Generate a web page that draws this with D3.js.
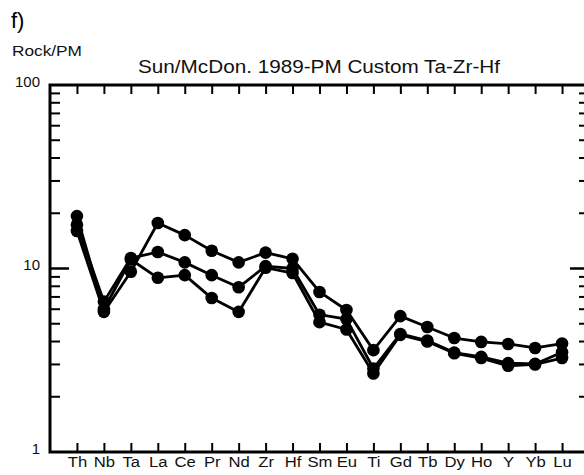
<!DOCTYPE html>
<html>
<head>
<meta charset="utf-8">
<script src="https://cdn.jsdelivr.net/npm/d3@7/dist/d3.min.js"></script>
<style>
  html, body { margin: 0; padding: 0; background: #fff; }
  svg { display: block; font-family: "Liberation Sans", Arial, sans-serif; }
</style>
</head>
<body>
<svg id="chart" width="584" height="475"></svg>
<script>
// Elements along the x axis (spider diagram order)
const elements = ["Th","Nb","Ta","La","Ce","Pr","Nd","Zr","Hf","Sm","Eu","Ti","Gd","Tb","Dy","Ho","Y","Yb","Lu"];

// Rock / primitive-mantle normalised values, one array per sample
const sampleA = [16.0, 5.8, 9.6, 17.7, 15.2, 12.5, 10.8, 12.2, 11.3, 7.45, 5.94, 3.59, 5.5, 4.8, 4.18, 3.98, 3.88, 3.69, 3.9];
const sampleB = [17.3, 6.6, 11.4, 12.3, 10.8, 9.2, 7.9, 10.3, 10.0, 5.6, 5.3, 2.85, 4.4, 4.05, 3.48, 3.3, 3.05, 3.02, 3.5];
const sampleC = [19.3, 6.0, 11.2, 8.9, 9.2, 6.9, 5.8, 10.1, 9.45, 5.1, 4.65, 2.68, 4.35, 4.0, 3.45, 3.25, 2.95, 3.0, 3.25];
const samples = [sampleA, sampleB, sampleC];

// Y axis labels
const yMajor = [1, 10, 100];
const yLabels = ["1", "10", "100"];

const panelLabel = "f)";
const yTitle = "Rock/PM";
const chartTitle = "Sun/McDon. 1989-PM Custom Ta-Zr-Hf";

const svg = d3.select("#chart");
const frame = { left: 50, right: 589, top: 85, bottom: 452 };

const x = d3.scalePoint().domain(elements).range([frame.left, frame.right]).padding(1);
const y = d3.scaleLog().domain([1, 100]).range([frame.bottom, frame.top]);

// Minor log ticks (2..9 per decade)
const yMinor = [];
for (const d of [1, 10]) for (let k = 2; k <= 9; k++) yMinor.push(d * k);

const g = svg.append("g");

// Bottom axis: inward ticks, category labels
const xb = g.append("g").attr("transform", `translate(0,${frame.bottom})`)
  .call(d3.axisBottom(x).tickSizeInner(-9).tickSizeOuter(0).tickPadding(5));
// Top axis: inward ticks, no labels
const xt = g.append("g").attr("transform", `translate(0,${frame.top})`)
  .call(d3.axisTop(x).tickSizeInner(-9).tickSizeOuter(0).tickFormat(""));
[xb, xt].forEach(a => {
  a.select(".domain").remove();
  a.selectAll(".tick line").attr("stroke", "#000").attr("stroke-width", 2);
});
// Slightly wide lettering for the element labels
xb.selectAll(".tick text").attr("font-size", 14.5).attr("fill", "#111")
  .attr("font-family", "Liberation Sans, Arial, sans-serif")
  .attr("transform", "scale(1.15,1)");

// Left and right log ticks
const sides = [{ x0: frame.left, dir: 1 }, { x0: frame.right, dir: -1 }];
sides.forEach(s => {
  g.selectAll(null).data(yMinor).enter().append("line")
    .attr("x1", s.x0).attr("x2", s.x0 + s.dir * 10)
    .attr("y1", d => y(d)).attr("y2", d => y(d))
    .attr("stroke", "#000").attr("stroke-width", 2);
  g.selectAll(null).data([10]).enter().append("line")
    .attr("x1", s.x0).attr("x2", s.x0 + s.dir * 19)
    .attr("y1", d => y(d)).attr("y2", d => y(d))
    .attr("stroke", "#000").attr("stroke-width", 2.5);
});

// Y labels
g.selectAll(null).data(yMajor).enter().append("text")
  .attr("x", 40).attr("y", d => y(d)).attr("dy", "0.1em")
  .attr("text-anchor", "end").attr("font-size", 15).attr("fill", "#111")
  .text((d, i) => yLabels[i]);

// Frame
g.append("rect").attr("x", frame.left).attr("y", frame.top)
  .attr("width", frame.right - frame.left).attr("height", frame.bottom - frame.top)
  .attr("fill", "none").attr("stroke", "#000").attr("stroke-width", 3);

// Sample lines and markers
const line = d3.line().x((d, i) => x(elements[i])).y(d => y(d));
samples.forEach(s => {
  g.append("path").datum(s).attr("d", line)
    .attr("fill", "none").attr("stroke", "#000").attr("stroke-width", 2.8)
    .attr("stroke-linejoin", "round");
});
samples.forEach(s => {
  g.selectAll(null).data(s).enter().append("circle")
    .attr("cx", (d, i) => x(elements[i])).attr("cy", d => y(d))
    .attr("r", 6.3).attr("fill", "#000");
});

// Titles
svg.append("text").attr("x", 11).attr("y", 28).attr("font-size", 22).attr("fill", "#000").text(panelLabel);
svg.append("text").attr("x", 12).attr("y", 56).attr("font-size", 15).attr("fill", "#111")
  .attr("textLength", 70).attr("lengthAdjust", "spacingAndGlyphs").text(yTitle);
svg.append("text").attr("x", 138).attr("y", 73)
  .attr("font-size", 18).attr("fill", "#111")
  .attr("textLength", 362).attr("lengthAdjust", "spacingAndGlyphs").text(chartTitle);
</script>
</body>
</html>
